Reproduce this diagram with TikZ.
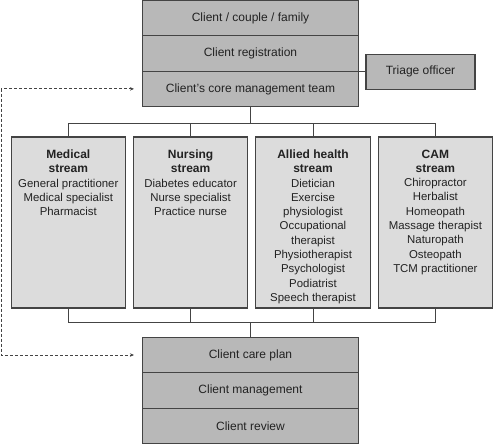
\documentclass[tikz,border=0pt]{standalone}
\usepackage{fontspec}
\setmainfont{Liberation Sans}
\usetikzlibrary{arrows.meta}
\definecolor{darkfill}{HTML}{B8B8B8}
\definecolor{lightfill}{HTML}{DCDCDC}
\definecolor{edge}{HTML}{444444}
\definecolor{ink}{HTML}{222222}
\tikzset{
  rowbox/.style={draw=edge, line width=1.1pt, fill=darkfill, minimum width=216pt, minimum height=35.6pt, inner sep=0pt, text=ink, font=\fontsize{12}{14}\selectfont},
  streambox/.style={draw=edge, line width=1.1pt, fill=lightfill, minimum width=114.5pt, minimum height=171pt, inner sep=0pt},
  streamtext/.style={anchor=north, inner sep=0pt, align=center, text=ink, font=\fontsize{11.4}{14.3}\selectfont},
  conn/.style={draw=edge, line width=0.9pt},
  dashconn/.style={draw=edge, line width=0.9pt, dash pattern=on 3pt off 2pt, {Stealth[length=4pt,width=3.5pt]}-{Stealth[length=4pt,width=3.5pt]}}
}
\begin{document}
\begin{tikzpicture}[x=1pt,y=-1pt]
\useasboundingbox (0,0) rectangle (493,445);
% top stack
\node[rowbox] (client) at (250.5,18.3) {Client / couple / family};
\node[rowbox] (reg) at (250.5,53.3) {Client registration};
\node[rowbox] (core) at (250.5,88.9) {Client’s core management team};
\node[rowbox, minimum width=109pt, minimum height=35.3pt] (triage) at (420.5,71.7) {Triage officer};
\draw[conn] (triage.west) -- (triage.west -| core.east);
% streams
\node[streambox] (med) at (68.3,222.5) {};
\node[streambox] (nur) at (190.6,222.5) {};
\node[streambox] (all) at (313,222.5) {};
\node[streambox] (cam) at (435.4,222.5) {};
\node[streamtext] (medt) at (68.3,149.5) {\fontsize{12}{14}\selectfont\bfseries Medical\\\fontsize{12}{14}\selectfont\bfseries stream\\General practitioner\\Medical specialist\\Pharmacist};
\node[streamtext] (nurt) at (190.6,149.5) {\fontsize{12}{14}\selectfont\bfseries Nursing\\\fontsize{12}{14}\selectfont\bfseries stream\\Diabetes educator\\Nurse specialist\\Practice nurse};
\node[streamtext] (allt) at (313,149.5) {\fontsize{12}{14}\selectfont\bfseries Allied health\\\fontsize{12}{14}\selectfont\bfseries stream\\Dietician\\Exercise\\physiologist\\Occupational\\therapist\\Physiotherapist\\Psychologist\\Podiatrist\\Speech therapist};
\node[streamtext] (camt) at (435.4,149.5) {\fontsize{12}{14}\selectfont\bfseries CAM\\\fontsize{12}{14}\selectfont\bfseries stream\\Chiropractor\\Herbalist\\Homeopath\\Massage therapist\\Naturopath\\Osteopath\\TCM practitioner};
% bottom stack
\node[rowbox] (plan) at (250.5,355) {Client care plan};
\node[rowbox] (mgmt) at (250.5,390.5) {Client management};
\node[rowbox] (review) at (250.5,426) {Client review};
% top bus
\coordinate (tb) at (250.5,123.3);
\draw[conn] (core.south) -- (tb);
\draw[conn] (med.north) -- (med.north |- tb) -- (cam.north |- tb) -- (cam.north);
\draw[conn] (nur.north) -- (nur.north |- tb);
\draw[conn] (all.north) -- (all.north |- tb);
% bottom bus
\coordinate (bb) at (250.5,322);
\draw[conn] (plan.north) -- (bb);
\draw[conn] (med.south) -- (med.south |- bb) -- (cam.south |- bb) -- (cam.south);
\draw[conn] (nur.south) -- (nur.south |- bb);
\draw[conn] (all.south) -- (all.south |- bb);
% dashed feedback
\coordinate (lx) at (1.2,0);
\draw[dashconn] ([xshift=-8pt]core.west) -- (core.west -| lx) -- (plan.west -| lx) -- ([xshift=-8pt]plan.west);
\end{tikzpicture}
\end{document}
